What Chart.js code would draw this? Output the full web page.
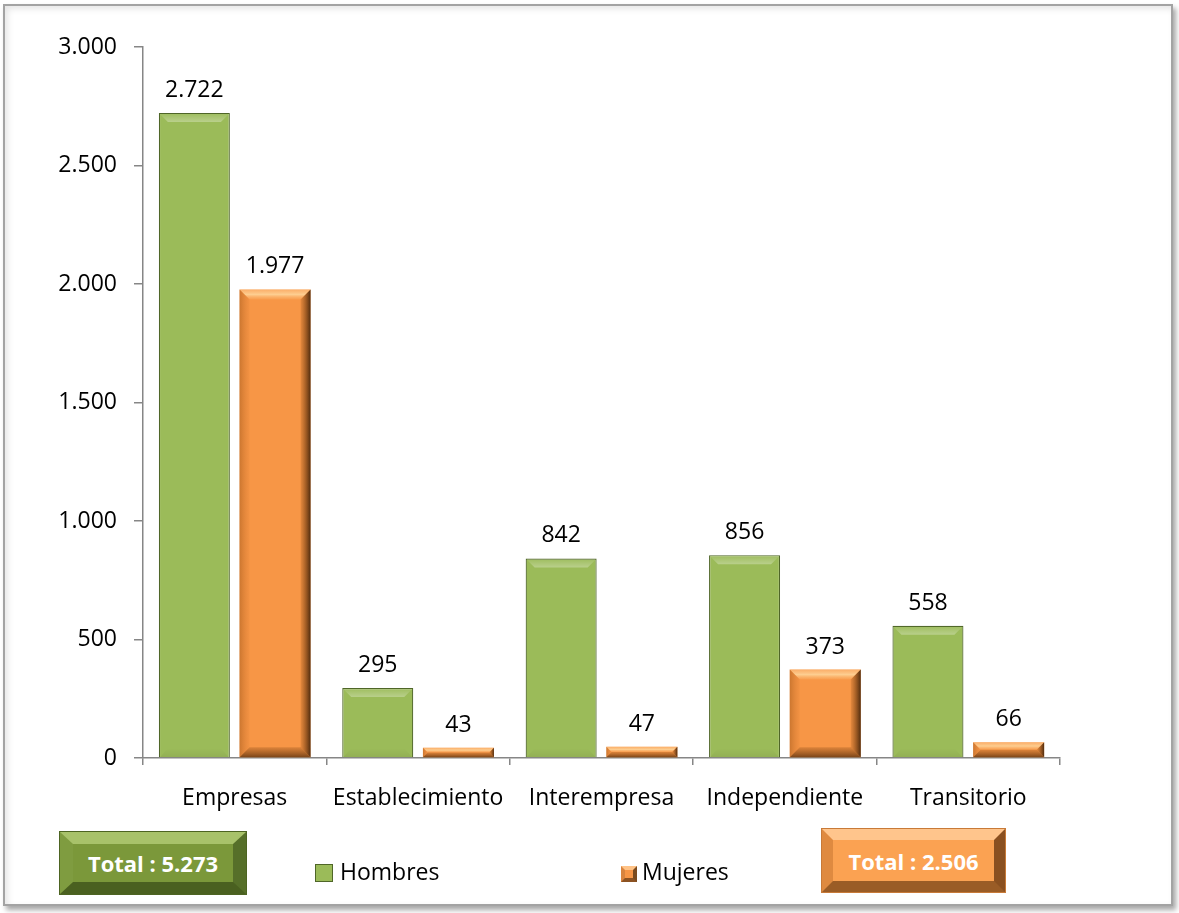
<!DOCTYPE html>
<html>
<head>
<meta charset="utf-8">
<script src="https://cdn.jsdelivr.net/npm/chart.js@4/dist/chart.umd.min.js"></script>
<style>
  html, body { margin:0; padding:0; background:#fff; }
  #wrap { position:relative; width:1179px; height:913px; overflow:hidden; font-family:"Open Sans", sans-serif; }
  #frame { position:absolute; left:3px; top:4px; width:1166px; height:898px; border:2px solid #a3a3a3;
    box-shadow: inset 3px 3px 6px rgba(0,0,0,0.10), 3px 4px 5px rgba(0,0,0,0.35); background:#fff; }
  canvas { position:absolute; left:0; top:0; }
  .total { position:absolute; box-sizing:border-box; color:#fff; font-weight:bold; font-size:22px;
    display:flex; align-items:center; justify-content:center; white-space:nowrap; }
  .lg { position:absolute; font-size:23px; color:#000; line-height:1; }
  .lgbox { position:absolute; box-sizing:border-box; }
</style>
</head>
<body>
<div id="wrap">
  <div id="frame"></div>
  <canvas id="c" width="1179" height="913"></canvas>
  <div class="total" id="totH" style="left:60px; top:832px; width:186px; height:62px;
     border-style:solid; border-width:12px 13px 12px 13px;
     border-color:#a8c26a #566f29 #4a6020 #7f9c40; background:#7b983a; outline:1px solid #4d6422;"></div>
  <div class="lgbox" style="left:315px; top:864px; width:18px; height:18px; background:#9bbb59; border:1px solid #4f6628;"></div>
  <div class="lg" id="lgH" style="left:340px; top:860px;"></div>
  <div class="lgbox" style="left:621px; top:866px; width:16px; height:16px; border-style:solid; border-width:4px;
     border-color:#ffc387 #7a4a1e #8c5222 #d9843e; background:#f79646;"></div>
  <div class="lg" id="lgM" style="left:642px; top:860px;"></div>
  <div class="total" id="totM" style="left:822px; top:829px; width:183px; height:63px;
     border-style:solid; border-width:11px 11px 11px 11px;
     border-color:#ffc58c #8a5020 #9a5c26 #df8a40; background:#fba252; outline:1px solid #c87a38;"></div>
</div>
<script>
const categories = ["Empresas", "Establecimiento", "Interempresa", "Independiente", "Transitorio"];
const seriesNames = ["Hombres", "Mujeres"];
const hombres = [2722, 295, 842, 856, 558];
const mujeres = [1977, 43, 47, 373, 66];
const yTicks = [0, 500, 1000, 1500, 2000, 2500, 3000];
const totals = [5273, 2506];

function fmt(v) {
  return String(Math.round(v)).replace(/\B(?=(\d{3})+(?!\d))/g, ".");
}

document.getElementById('lgH').textContent = seriesNames[0];
document.getElementById('lgM').textContent = seriesNames[1];
document.getElementById('totH').textContent = "Total : " + fmt(totals[0]);
document.getElementById('totM').textContent = "Total : " + fmt(totals[1]);

const FONT = "'Open Sans', sans-serif";

function poly(ctx, pts, fill) {
  ctx.beginPath();
  ctx.moveTo(pts[0][0], pts[0][1]);
  for (let i = 1; i < pts.length; i++) ctx.lineTo(pts[i][0], pts[i][1]);
  ctx.closePath();
  ctx.fillStyle = fill;
  ctx.fill();
}

const bevelPlugin = {
  id: 'bevel',
  afterDatasetsDraw(chart) {
    const ctx = chart.ctx;
    chart.data.datasets.forEach((ds, i) => {
      const meta = chart.getDatasetMeta(i);
      meta.data.forEach(el => {
        const p = el.getProps(['x', 'y', 'base', 'width'], true);
        const l = p.x - p.width / 2, r = p.x + p.width / 2;
        const t = Math.min(p.y, p.base), b = Math.max(p.y, p.base);
        const h = b - t;
        ctx.save();
        if (ds.bevelStyle === 'green') {
          const s = Math.min(9, h / 2, p.width / 2);
          let g = ctx.createLinearGradient(0, t, 0, t + s);
          g.addColorStop(0, 'rgba(255,255,255,0.02)');
          g.addColorStop(0.7, 'rgba(255,255,255,0.22)');
          g.addColorStop(1, 'rgba(255,255,255,0.30)');
          poly(ctx, [[l + 1, t + 1], [r - 1, t + 1], [r - s, t + s], [l + s, t + s]], g);
          g = ctx.createLinearGradient(0, b - s, 0, b);
          g.addColorStop(0, 'rgba(0,0,0,0.0)');
          g.addColorStop(1, 'rgba(0,0,0,0.06)');
          poly(ctx, [[l + s, b - s], [r - s, b - s], [r - 1, b], [l + 1, b]], g);
        } else {
          const s = Math.min(10, h / 2, p.width / 2);
          let g = ctx.createLinearGradient(0, t, 0, t + s);
          g.addColorStop(0, 'rgba(255,200,140,0.5)');
          g.addColorStop(0.5, 'rgba(255,225,170,0.75)');
          g.addColorStop(1, 'rgba(255,190,120,0.2)');
          poly(ctx, [[l, t], [r, t], [r - s, t + s], [l + s, t + s]], g);
          g = ctx.createLinearGradient(l, 0, l + s, 0);
          g.addColorStop(0, 'rgba(150,80,20,0.45)');
          g.addColorStop(1, 'rgba(200,110,40,0.1)');
          poly(ctx, [[l, t], [l + s, t + s], [l + s, b - s], [l, b]], g);
          g = ctx.createLinearGradient(r - s, 0, r, 0);
          g.addColorStop(0, 'rgba(120,60,10,0.15)');
          g.addColorStop(1, 'rgba(50,25,5,0.85)');
          poly(ctx, [[r, t], [r, b], [r - s, b - s], [r - s, t + s]], g);
          g = ctx.createLinearGradient(0, b - s, 0, b);
          g.addColorStop(0, 'rgba(110,55,10,0.2)');
          g.addColorStop(1, 'rgba(70,35,5,0.7)');
          poly(ctx, [[l + s, b - s], [r - s, b - s], [r, b], [l, b]], g);
        }
        ctx.restore();
      });
    });
  }
};

const labelPlugin = {
  id: 'vlabels',
  afterDatasetsDraw(chart) {
    const ctx = chart.ctx;
    ctx.save();
    ctx.font = "23px " + FONT;
    ctx.fillStyle = '#000';
    ctx.textAlign = 'center';
    ctx.textBaseline = 'alphabetic';
    chart.data.datasets.forEach((ds, i) => {
      const meta = chart.getDatasetMeta(i);
      meta.data.forEach((el, j) => {
        const p = el.getProps(['x', 'y'], true);
        ctx.fillText(fmt(ds.data[j]), p.x, p.y - 16);
      });
    });
    ctx.restore();
  }
};

new Chart(document.getElementById('c'), {
  type: 'bar',
  data: {
    labels: categories,
    datasets: [
      { label: seriesNames[0], data: hombres, backgroundColor: '#9bbb59', borderColor: '#4f6628', borderWidth: 1.2, bevelStyle: 'green',
        categoryPercentage: 0.88, barPercentage: 0.88 },
      { label: seriesNames[1], data: mujeres, backgroundColor: '#f79646', borderWidth: 0, bevelStyle: 'orange',
        categoryPercentage: 0.88, barPercentage: 0.88 }
    ]
  },
  options: {
    responsive: false,
    animation: false,
    devicePixelRatio: 1,
    layout: { padding: { left: 0, top: 47, right: 119, bottom: 95 } },
    plugins: { legend: { display: false }, tooltip: { enabled: false } },
    scales: {
      x: {
        grid: { display: true, drawOnChartArea: false, drawTicks: true, tickLength: 7, offset: true, color: '#868686', lineWidth: 1.5 },
        border: { display: true, color: '#868686', width: 1.5 },
        ticks: { font: { family: FONT, size: 23 }, color: '#000', padding: 20, maxRotation: 0, autoSkip: false },
        afterFit: s => { s.height = 60; }
      },
      y: {
        min: 0, max: 3000,
        afterBuildTicks: s => { s.ticks = yTicks.map(v => ({ value: v })); },
        grid: { display: true, drawOnChartArea: false, drawTicks: true, tickLength: 9, color: '#868686', lineWidth: 1.5 },
        border: { display: true, color: '#868686', width: 1.5 },
        ticks: { font: { family: FONT, size: 23 }, color: '#000', padding: 17, callback: v => fmt(v) },
        afterFit: s => { s.width = 143; }
      }
    }
  },
  plugins: [bevelPlugin, labelPlugin]
});
</script>
</body>
</html>
